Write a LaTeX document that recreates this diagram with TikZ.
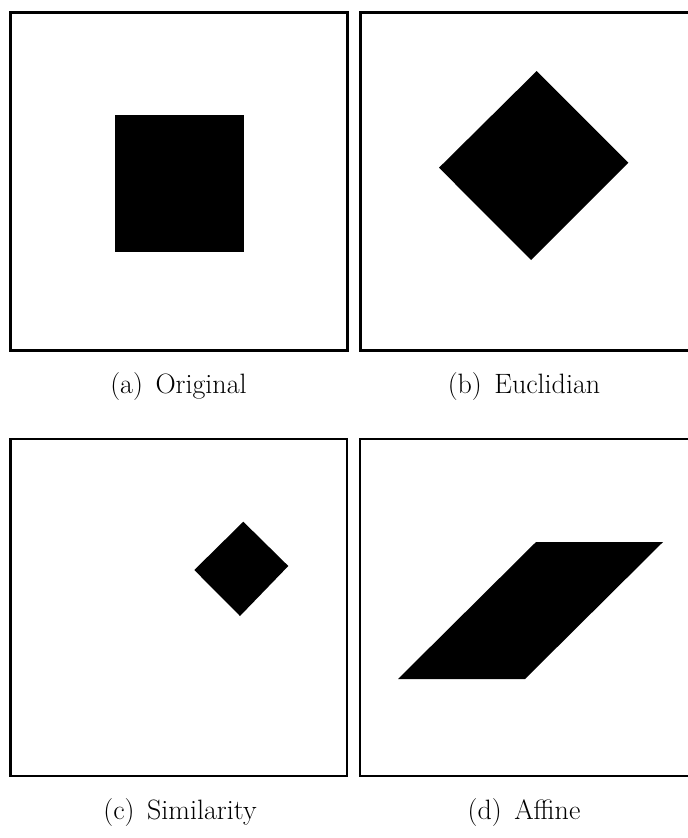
\documentclass[tikz,border=0pt]{standalone}
\begin{document}
\begin{tikzpicture}[x=1pt,y=-1pt,
  frame/.style={draw=black,line width=2.6pt},
  blackfill/.style={fill=black},
  caption/.style={font=\fontsize{28}{34}\selectfont,inner sep=0pt,anchor=base}]
\useasboundingbox (0,0) rectangle (688,838);
\begin{scope}
\clip (0,0) rectangle (688,838);
% frames
\draw[frame] (10.3,12.5) rectangle (347.5,350.5);
\draw[frame] (360.7,12.5) rectangle (698,350.5);
\draw[frame] (10.3,439) rectangle (347,776);
\draw[frame] (360,439) rectangle (698,776);
% shapes
\fill[blackfill] (114.7,115) rectangle (244.3,252.3);
\fill[blackfill] (536.7,71) -- (628.3,162.7) -- (531,260) -- (439,167.7) -- cycle;
\fill[blackfill] (243.3,521.7) -- (288.3,566) -- (240,616) -- (194.3,570) -- cycle;
\fill[blackfill] (536,542) -- (663,542) -- (525,679) -- (398,679) -- cycle;
\end{scope}
% captions
\node[caption] (capa) at (178.5,393) {(a)\hspace{0.45em}Original};
\node[caption] (capb) at (524,393) {(b)\hspace{0.45em}Euclidian};
\node[caption] (capc) at (180,819) {(c)\hspace{0.45em}Similarity};
\node[caption] (capd) at (524,819) {(d)\hspace{0.45em}Affine};
\end{tikzpicture}
\end{document}
